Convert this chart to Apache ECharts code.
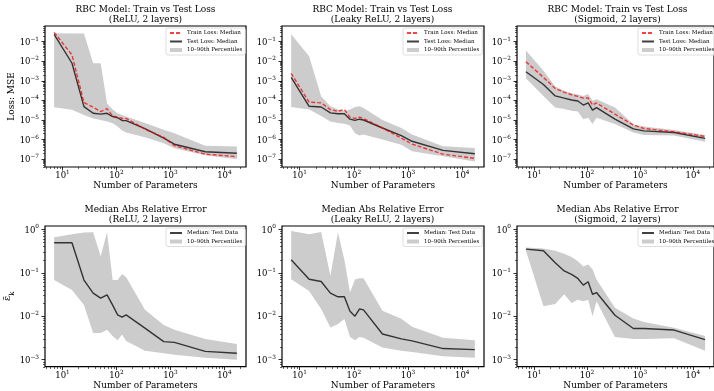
<!DOCTYPE html>
<html><head><meta charset="utf-8">
<script src="https://cdn.jsdelivr.net/npm/echarts@6/dist/echarts.min.js"></script>
<style>html,body{margin:0;padding:0;background:#fff}#c{width:714px;height:391px}</style>
</head><body><div id="c"></div>
<script>
// ---------------- data ----------------
const xParams = [7, 15, 25, 37, 51, 67, 85, 105, 127, 151, 337, 751, 1185, 4417, 17025];

const reluTrain  = [0.30, 0.021, 7.8e-5, 4.5e-5, 2.7e-5, 3.8e-5, 1.6e-5, 1.4e-5, 1.2e-5, 1.2e-5, 3.4e-6, 1.3e-6, 4.9e-7, 1.8e-7, 1.35e-7];
const reluTest   = [0.235, 0.0079, 4.8e-5, 2.2e-5, 2.0e-5, 2.2e-5, 1.5e-5, 1.3e-5, 9.5e-6, 9.3e-6, 3.6e-6, 1.2e-6, 5.8e-7, 2.4e-7, 2.0e-7];
const reluLossLo = [4.5e-5, 3.3e-5, 1.8e-5, 1.2e-5, 1.0e-5, 8.3e-6, 6.8e-6, 4.6e-6, 2.9e-6, 2.3e-6, 1.3e-6, 6.5e-7, 3.6e-7, 1.6e-7, 1.0e-7];
const reluLossHi = [0.27, 0.26, 0.26, 0.008, 0.008, 7e-5, 3.4e-5, 2.2e-5, 1.8e-5, 1.5e-5, 7e-6, 3.2e-6, 2.1e-6, 4.9e-7, 4.4e-7];

const leakyTrain  = [2.4e-3, 8.1e-5, 7.5e-5, 3.4e-5, 2.8e-5, 3.4e-5, 1.4e-5, 1.2e-5, 1.4e-5, 1.2e-5, 3.9e-6, 1.2e-6, 5.9e-7, 1.8e-7, 1.1e-7];
const leakyTest   = [1.5e-3, 5e-5, 4.6e-5, 2.3e-5, 2.1e-5, 2.1e-5, 1.1e-5, 9.5e-6, 1.1e-5, 1e-5, 3.9e-6, 1.6e-6, 8.2e-7, 2.8e-7, 1.9e-7];
const leakyLossLo = [4.6e-5, 3.4e-5, 1.6e-5, 8.5e-6, 7e-6, 6.5e-6, 5.2e-6, 2.1e-6, 1.6e-6, 1.8e-6, 1e-6, 5.5e-7, 2.5e-7, 1.4e-7, 7.5e-8];
const leakyLossHi = [0.24, 0.018, 1.6e-4, 5e-5, 3.4e-5, 2.8e-5, 3.4e-5, 4.6e-5, 5e-5, 4.1e-5, 1e-5, 3.9e-6, 1.8e-6, 4.5e-7, 3.7e-7];

const sigTrain  = [9.5e-3, 1.5e-3, 4.1e-4, 2.6e-4, 1.95e-4, 1.6e-4, 1.3e-4, 1.35e-4, 5.8e-5, 7.4e-5, 2e-5, 5.5e-6, 3.7e-6, 2.5e-6, 1.45e-6];
const sigTest   = [2.9e-3, 6.5e-4, 1.7e-4, 1.3e-4, 1.05e-4, 9.3e-5, 5.8e-5, 7.4e-5, 3.2e-5, 4.3e-5, 1.1e-5, 3.5e-6, 2.8e-6, 2.3e-6, 1.15e-6];
const sigLossLo = [1.35e-3, 1.7e-4, 4.4e-5, 3.6e-5, 3e-5, 2.7e-5, 1.1e-5, 1.3e-5, 6.2e-6, 1.3e-5, 6.2e-6, 2.3e-6, 1.7e-6, 1.6e-6, 7.8e-7];
const sigLossHi = [0.035, 3.3e-3, 5.2e-4, 3.1e-4, 2.3e-4, 2e-4, 1.7e-4, 2.1e-4, 9.5e-5, 1.15e-4, 4.4e-5, 6e-6, 4.6e-6, 3.1e-6, 1.7e-6];

const reluErr   = [0.49, 0.49, 0.068, 0.034, 0.026, 0.031, 0.018, 0.0107, 0.0095, 0.0107, 0.0053, 0.0026, 0.0025, 0.00155, 0.0014];
const reluErrLo = [0.068, 0.04, 0.018, 0.0041, 0.0041, 0.0049, 0.0035, 0.0028, 0.0038, 0.0027, 0.0016, 0.0014, 0.0013, 0.0011, 0.001];
const reluErrHi = [0.66, 0.77, 0.84, 0.85, 0.24, 0.85, 0.068, 0.068, 0.093, 0.08, 0.014, 0.0063, 0.0049, 0.003, 0.0023];

const leakyErr   = [0.2, 0.071, 0.063, 0.034, 0.028, 0.028, 0.013, 0.01, 0.0146, 0.014, 0.0039, 0.003, 0.0027, 0.0018, 0.0017];
const leakyErrLo = [0.071, 0.038, 0.0146, 0.0055, 0.0066, 0.0086, 0.0033, 0.0028, 0.0033, 0.0032, 0.0019, 0.0016, 0.0015, 0.0012, 0.0011];
const leakyErrHi = [0.92, 0.77, 0.87, 0.085, 0.84, 0.2, 0.035, 0.07, 0.075, 0.075, 0.0133, 0.0087, 0.0057, 0.0032, 0.0028];

const sigErr   = [0.35, 0.32, 0.17, 0.11, 0.092, 0.074, 0.052, 0.062, 0.032, 0.035, 0.0105, 0.0052, 0.0052, 0.0048, 0.0029];
const sigErrLo = [0.32, 0.017, 0.019, 0.032, 0.02, 0.024, 0.022, 0.024, 0.01, 0.022, 0.0033, 0.003, 0.003, 0.0031, 0.0016];
const sigErrHi = [0.38, 0.36, 0.32, 0.275, 0.23, 0.185, 0.14, 0.155, 0.12, 0.07, 0.0156, 0.0089, 0.0074, 0.0054, 0.0035];

const xTicks    = [10, 100, 1000, 10000];
const lossTicks = [1e-7, 1e-6, 1e-5, 1e-4, 1e-3, 1e-2, 1e-1];
const errTicks  = [1e-3, 1e-2, 1e-1, 1];

const topTitles = ['RBC Model: Train vs Test Loss\n(ReLU, 2 layers)',
                   'RBC Model: Train vs Test Loss\n(Leaky ReLU, 2 layers)',
                   'RBC Model: Train vs Test Loss\n(Sigmoid, 2 layers)'];
const botTitles = ['Median Abs Relative Error\n(ReLU, 2 layers)',
                   'Median Abs Relative Error\n(Leaky ReLU, 2 layers)',
                   'Median Abs Relative Error\n(Sigmoid, 2 layers)'];
const xName = 'Number of Parameters';
const lossName = 'Loss: MSE';
const nameTrain = 'Train Loss: Median';
const nameTest = 'Test Loss: Median';
const nameBand = '10\u201390th Percentiles';
const nameMed = 'Median: Test Data';

// ---------------- layout / style ----------------
const FONT = 'DejaVu Serif';
const lefts = [45, 282, 517];
const widths = [201, 202, 200];
const tops = [26, 226];
const H = 141;
const xMin = Math.pow(10, 0.676), xMax = Math.pow(10, 4.40);
const lossMin = Math.pow(10, -7.40), lossMax = Math.pow(10, -0.20);
const errMin = Math.pow(10, -3.16), errMax = Math.pow(10, 0.076);
const RED = 'rgba(255,0,0,0.75)';
const DARK = 'rgba(0,0,0,0.75)';
const BAND = '#cccccc';

function minorVals(mn, mx) {
  const out = [];
  for (let d = Math.floor(Math.log10(mn)); d <= Math.ceil(Math.log10(mx)); d++) {
    for (let k = 2; k <= 9; k++) { const v = k * Math.pow(10, d); if (v > mn && v < mx) out.push(v); }
  }
  return out;
}
function expLabel(v) {
  const e = Math.round(Math.log10(v));
  return '{b|10}{s|' + (e < 0 ? '\u2212' + (-e) : e) + '}';
}
const richLbl = {
  b: { fontFamily: FONT, fontSize: 8.5, color: '#000', verticalAlign: 'bottom', lineHeight: 11 },
  s: { fontFamily: FONT, fontSize: 5.8, color: '#000', verticalAlign: 'top', lineHeight: 6 }
};

const grid = [], xAxis = [], yAxis = [], series = [], title = [], legend = [];

function addPanel(row, col, lines, band, yMin, yMax, yTicks, yName, legendNames) {
  const gi = grid.length;
  grid.push({ left: lefts[col], top: tops[row], width: widths[col], height: H, show: true, borderColor: '#000', borderWidth: 1.2, backgroundColor: 'transparent' });
  xAxis.push({
    gridIndex: gi, type: 'log', min: xMin, max: xMax,
    axisLine: { show: false }, splitLine: { show: false },
    axisTick: { show: true, customValues: xTicks, length: 3.5, lineStyle: { color: '#000', width: 0.8 } },
    axisLabel: { customValues: xTicks, formatter: expLabel, rich: richLbl, margin: 2.5 },
    name: xName, nameLocation: 'middle', nameGap: 12,
    nameTextStyle: { fontFamily: FONT, fontSize: 9, color: '#000' }
  });
  const ya = {
    gridIndex: gi, type: 'log', min: yMin, max: yMax,
    axisLine: { show: false }, splitLine: { show: false },
    axisTick: { show: true, customValues: yTicks, length: 3.5, lineStyle: { color: '#000', width: 0.8 } },
    axisLabel: { customValues: yTicks, formatter: expLabel, rich: richLbl, margin: 6 }
  };
  if (yName) Object.assign(ya, yName);
  yAxis.push(ya);
  series.push({
    type: 'custom', name: nameBand, xAxisIndex: gi, yAxisIndex: gi, silent: true, z: 1,
    itemStyle: { color: BAND },
    data: xParams.map((x, i) => [x, band[0][i], band[1][i]]),
    encode: { x: 0, y: [1, 2] },
    renderItem: function (params, api) {
      if (params.dataIndex !== 0) return null;
      const pts = [];
      for (let i = 0; i < xParams.length; i++) pts.push(api.coord([xParams[i], band[1][i]]));
      for (let i = xParams.length - 1; i >= 0; i--) pts.push(api.coord([xParams[i], band[0][i]]));
      return { type: 'polygon', shape: { points: pts }, style: { fill: BAND } };
    }
  });
  lines.forEach(l => {
    series.push({
      type: 'line', name: l.name, xAxisIndex: gi, yAxisIndex: gi, symbol: 'none', showSymbol: false,
      z: l.z, silent: true,
      lineStyle: { color: l.color, width: 1.4, type: l.dash ? [4, 2] : 'solid' },
      itemStyle: { color: l.color },
      data: xParams.map((x, i) => [x, l.data[i]])
    });
  });
  legend.push({
    orient: 'vertical', left: lefts[col] + 121, top: tops[row] + 2,
    itemWidth: 12, itemHeight: 4, itemGap: 2.5, padding: [2, 3, 2, 3],
    borderColor: '#d6d6d6', borderWidth: 0.8, borderRadius: 2, backgroundColor: 'rgba(255,255,255,0.85)',
    selectedMode: false,
    textStyle: { fontFamily: FONT, fontSize: 5.5, color: '#000' },
    data: legendNames.map(n => n === nameBand
      ? { name: n, icon: 'rect', itemStyle: { color: BAND } }
      : { name: n, itemStyle: { color: 'transparent', opacity: 0, borderWidth: 0 } })
  });
  const cx = lefts[col] + 100.5;
  title.push({
    text: row === 0 ? topTitles[col] : botTitles[col], left: cx, top: tops[row] - 21, textAlign: 'center', padding: 0,
    textStyle: { fontFamily: FONT, fontSize: 9, fontWeight: 'normal', color: '#000', lineHeight: 10 }
  });
}

const lossY = { name: lossName, nameLocation: 'middle', nameGap: 27, nameRotate: 90, nameTextStyle: { fontFamily: FONT, fontSize: 9, color: '#000' } };
const errY = { name: '{e|\u03b5\u0304}{k|k}', nameLocation: 'middle', nameGap: 26, nameRotate: 90,
  nameTextStyle: { rich: { e: { fontFamily: FONT, fontSize: 10, color: '#000', verticalAlign: 'top', lineHeight: 11 }, k: { fontFamily: FONT, fontSize: 7, color: '#000', verticalAlign: 'bottom', lineHeight: 13 } } } };

const topSets = [[reluTrain, reluTest, reluLossLo, reluLossHi], [leakyTrain, leakyTest, leakyLossLo, leakyLossHi], [sigTrain, sigTest, sigLossLo, sigLossHi]];
const botSets = [[reluErr, reluErrLo, reluErrHi], [leakyErr, leakyErrLo, leakyErrHi], [sigErr, sigErrLo, sigErrHi]];

for (let c = 0; c < 3; c++) {
  const s = topSets[c];
  addPanel(0, c, [
    { name: nameTest, data: s[1], color: DARK, dash: false, z: 3 },
    { name: nameTrain, data: s[0], color: RED, dash: true, z: 4 }
  ], [s[2], s[3]], lossMin, lossMax, lossTicks, c === 0 ? lossY : null, [nameTrain, nameTest, nameBand]);
}
for (let c = 0; c < 3; c++) {
  const s = botSets[c];
  addPanel(1, c, [
    { name: nameMed, data: s[0], color: DARK, dash: false, z: 3 }
  ], [s[1], s[2]], errMin, errMax, errTicks, c === 0 ? errY : null, [nameMed, nameBand]);
}

// minor-tick overlay grids
for (let r = 0; r < 2; r++) {
  for (let c = 0; c < 3; c++) {
    const gi = grid.length;
    grid.push({ left: lefts[c], top: tops[r], width: widths[c], height: H, show: false });
    const ymn = r === 0 ? lossMin : errMin, ymx = r === 0 ? lossMax : errMax;
    xAxis.push({ gridIndex: gi, type: 'log', min: xMin, max: xMax, axisLine: { show: false }, splitLine: { show: false }, axisLabel: { show: false },
      axisTick: { show: true, customValues: minorVals(xMin, xMax), length: 2, lineStyle: { color: '#000', width: 0.6 } } });
    yAxis.push({ gridIndex: gi, type: 'log', min: ymn, max: ymx, axisLine: { show: false }, splitLine: { show: false }, axisLabel: { show: false },
      axisTick: { show: true, customValues: minorVals(ymn, ymx), length: 2, lineStyle: { color: '#000', width: 0.6 } } });
  }
}

const chart = echarts.init(document.getElementById('c'), null, { renderer: 'canvas' });
chart.setOption({ animation: false, backgroundColor: '#fff', title, legend, grid, xAxis, yAxis, series });
</script></body></html>
